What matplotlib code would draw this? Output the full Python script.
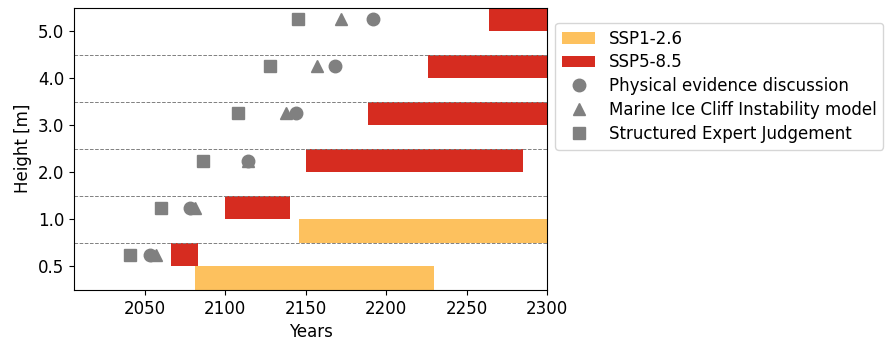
import matplotlib
matplotlib.use('Agg')
import matplotlib.pyplot as plt
import numpy as np

heights = ['0.5', '1.0', '2.0', '3.0', '4.0', '5.0']

# SSP1-2.6 exceedance ranges (only the lowest two heights)
ssp126_start = [2081, 2146]
ssp126_end = [2230, 2300]

# SSP5-8.5 exceedance ranges
ssp585_start = [2066, 2100, 2150, 2189, 2226, 2264]
ssp585_end = [2083, 2140, 2285, 2300, 2300, 2300]

# point estimates per line of evidence
physical = [2053, 2078, 2114, 2144, 2168, 2192]
mici = [2057, 2081, 2114, 2138, 2157, 2172]
sej = [2041, 2060, 2086, 2108, 2128, 2145]

c126 = '#fdc15e'
c585 = '#d62c20'

fig = plt.figure(figsize=(8.85, 3.43), dpi=100)
ax = fig.add_axes([74/885, 53/343, 473/885, 282.5/343])

y = np.arange(len(heights))

ax.barh(y[:len(ssp126_start)] - 0.25, np.array(ssp126_end) - np.array(ssp126_start),
        left=ssp126_start, height=0.5, color=c126, label='SSP1-2.6')
ax.barh(y + 0.25, np.array(ssp585_end) - np.array(ssp585_start),
        left=ssp585_start, height=0.5, color=c585, label='SSP5-8.5')

ax.plot(physical, y + 0.25, 'o', color='gray', ms=9, ls='none', label='Physical evidence discussion')
ax.plot(mici, y + 0.25, '^', color='gray', ms=9, ls='none', label='Marine Ice Cliff Instability model')
ax.plot(sej, y + 0.25, 's', color='gray', ms=8.5, ls='none', label='Structured Expert Judgement')

for k in range(len(heights) - 1):
    ax.axhline(k + 0.5, color='gray', ls='--', lw=0.7)

ax.set_xlim(2006, 2300)
ax.set_ylim(-0.5, 5.5)
ax.set_yticks(y)
ax.set_yticklabels(heights)
ax.set_xticks([2050, 2100, 2150, 2200, 2250, 2300])
ax.tick_params(labelsize=12)

ax.set_xlabel('Years', fontsize=12)
ax.set_ylabel('Height [m]', fontsize=12)

h, l = ax.get_legend_handles_labels()
order = [3, 4, 0, 1, 2]
ax.legend([h[i] for i in order], [l[i] for i in order],
          loc='upper left', bbox_to_anchor=(1.0, 0.975), fontsize=12,
          handlelength=2.0, labelspacing=0.35, borderaxespad=0.5)

plt.savefig('out.png', dpi=100)
